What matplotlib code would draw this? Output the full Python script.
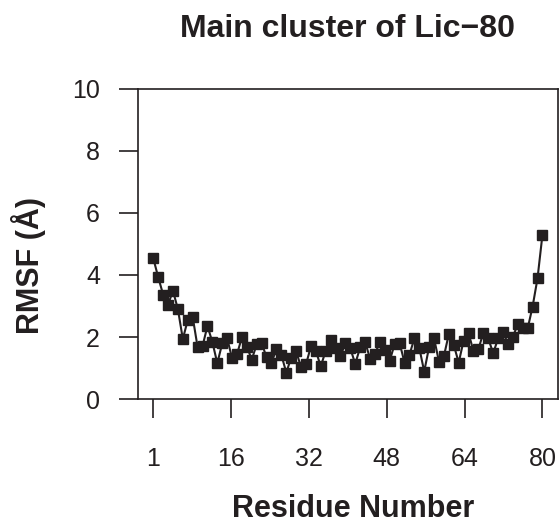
import numpy as np
import matplotlib
matplotlib.use("Agg")
import matplotlib.pyplot as plt

residues = list(range(1, 81))
rmsf = [4.54, 3.93, 3.37, 3.05, 3.49, 2.90, 1.94, 2.55, 2.65, 1.68,
        1.71, 2.36, 1.84, 1.16, 1.80, 1.96, 1.32, 1.45, 2.00, 1.69,
        1.28, 1.77, 1.81, 1.35, 1.17, 1.62, 1.43, 0.86, 1.34, 1.54,
        1.04, 1.12, 1.70, 1.56, 1.06, 1.56, 1.92, 1.65, 1.39, 1.80,
        1.64, 1.14, 1.67, 1.85, 1.31, 1.45, 1.85, 1.59, 1.24, 1.78,
        1.82, 1.18, 1.43, 1.96, 1.66, 0.89, 1.69, 1.96, 1.21, 1.39,
        2.10, 1.75, 1.18, 1.89, 2.12, 1.56, 1.61, 2.14, 1.96, 1.48,
        1.96, 2.18, 1.78, 2.01, 2.42, 2.28, 2.28, 2.98, 3.89, 5.29]
x_tick_labels = ["1", "16", "32", "48", "64", "80"]
y_ticks = [0, 2, 4, 6, 8, 10]

W, H = 559, 527
DPI = 100
INK = "#231f20"
plt.rcParams["font.family"] = ["Liberation Sans", "DejaVu Sans"]

fig = plt.figure(figsize=(W / DPI, H / DPI), dpi=DPI)
left, right, top, bottom = 137.7, 558.0, 88.5, 399.3
ax = fig.add_axes([left / W, 1 - bottom / H, (right - left) / W, (bottom - top) / H])

ax.plot(residues, rmsf, color=INK, lw=1.5, marker="s", ms=7.2,
        mfc=INK, mec=INK, clip_on=False)

ax.set_xlim(-2.16, 83.16)
ax.set_ylim(0, 10)
ax.set_xticks(np.linspace(1, 80, 6))
ax.set_xticklabels(x_tick_labels)
ax.set_yticks(y_ticks)
ax.set_yticklabels([str(v) for v in y_ticks])

for s in ax.spines.values():
    s.set_linewidth(1.2)
    s.set_color(INK)

ax.tick_params(axis="both", direction="out", length=13.7, width=1.2,
               color=INK, labelcolor=INK, labelsize=18)
ax.tick_params(axis="x", pad=20.5)
ax.tick_params(axis="y", pad=13.5)

fig.text(347.5 / W, 1 - 36.7 / H, "Main cluster of Lic\u221280", ha="center",
         va="baseline", fontsize=23, fontweight="bold", color=INK)
fig.text(353.5 / W, 1 - 517.3 / H, "Residue Number", ha="center",
         va="baseline", fontsize=22, fontweight="bold", color=INK)
fig.text(29 / W, 1 - 265 / H, "RMSF (\u00c5)", ha="center", va="center",
         rotation=90, fontsize=22, fontweight="bold", color=INK)

fig.savefig("out.png", dpi=DPI)
